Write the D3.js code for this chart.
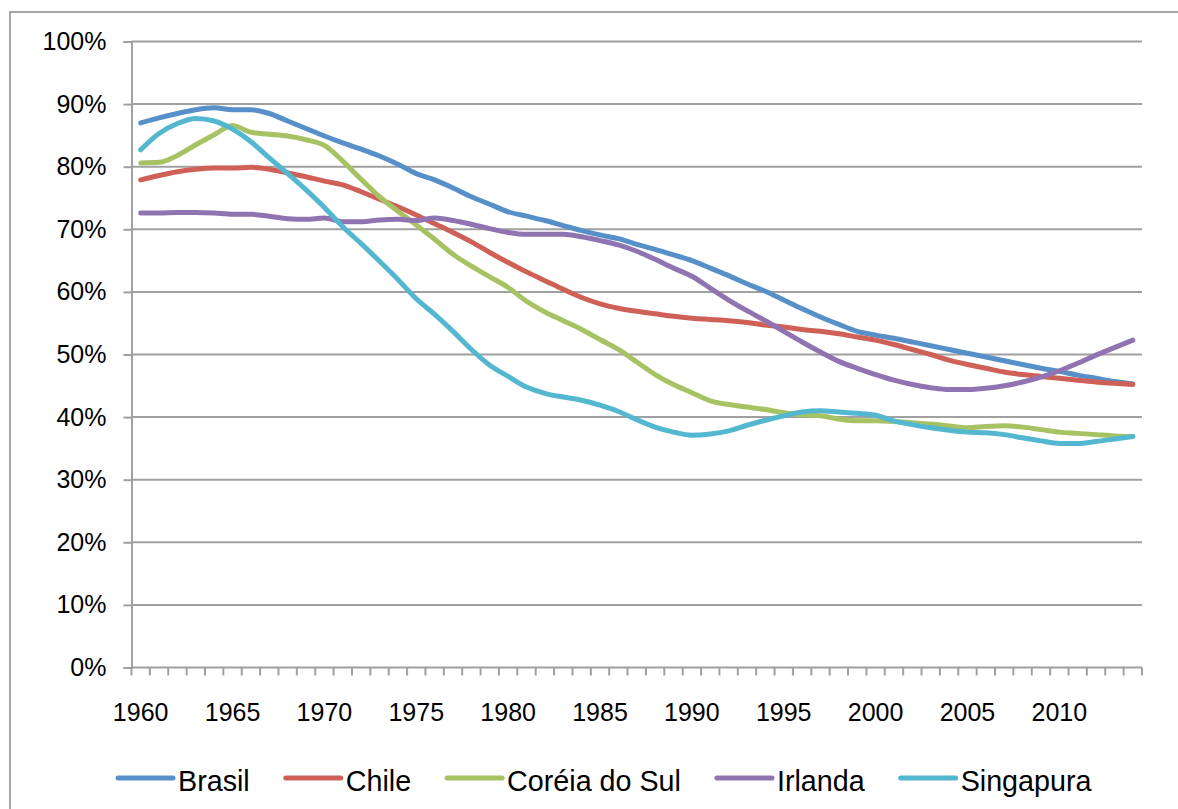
<!DOCTYPE html>
<html><head><meta charset="utf-8">
<script src="https://cdn.jsdelivr.net/npm/d3@7"></script>
<style>
html,body{margin:0;padding:0;background:#fff;}
svg{display:block;font-family:"Liberation Sans",Arial,sans-serif;}
</style></head>
<body>
<svg id="c" width="1178" height="809"></svg>
<script>
const years = d3.range(1960, 2015);
const seriesNames = ["Brasil","Chile","Coréia do Sul","Irlanda","Singapura"];
const seriesColors = ["#5790C9","#CF6058","#A7C263","#8F74B1","#53B7D0"];
const yTicks = [0,10,20,30,40,50,60,70,80,90,100];
const xTickLabels = [1960,1965,1970,1975,1980,1985,1990,1995,2000,2005,2010];

const brasil = [87.0,87.8,88.5,89.1,89.4,89.1,89.1,88.5,87.3,86.1,84.9,83.8,82.8,81.7,80.4,78.9,77.9,76.6,75.2,74.0,72.8,72.1,71.4,70.6,69.8,69.1,68.5,67.6,66.8,65.9,65.0,63.8,62.6,61.3,60.1,58.7,57.3,56.0,54.8,53.7,53.1,52.6,52.0,51.4,50.8,50.2,49.6,49.0,48.4,47.8,47.3,46.7,46.2,45.7,45.3];
const chile = [77.9,78.6,79.2,79.6,79.8,79.8,79.9,79.6,79.0,78.4,77.7,77.1,76.0,74.8,73.6,72.3,70.9,69.5,68.0,66.3,64.7,63.2,61.8,60.4,59.1,58.1,57.4,56.9,56.5,56.1,55.8,55.6,55.4,55.1,54.7,54.4,54.0,53.7,53.3,52.8,52.3,51.6,50.8,50.0,49.1,48.4,47.8,47.2,46.8,46.5,46.2,45.9,45.6,45.4,45.2];
const coreia = [80.6,80.7,81.8,83.5,85.1,86.6,85.5,85.2,84.9,84.3,83.4,80.9,78.0,75.2,72.9,70.7,68.4,66.0,64.1,62.4,60.7,58.5,56.8,55.4,54.0,52.4,50.8,48.8,46.8,45.2,43.9,42.6,42.0,41.6,41.2,40.7,40.4,40.2,39.7,39.4,39.4,39.3,39.1,38.9,38.6,38.3,38.5,38.6,38.4,38.0,37.6,37.4,37.2,37.0,36.9];
const irlanda = [72.6,72.6,72.7,72.7,72.6,72.4,72.4,72.1,71.7,71.6,71.8,71.2,71.2,71.5,71.6,71.4,71.8,71.4,70.8,70.1,69.5,69.2,69.2,69.2,68.8,68.2,67.5,66.5,65.2,63.8,62.5,60.6,58.7,57.0,55.4,53.7,52.0,50.4,48.9,47.8,46.8,45.9,45.2,44.7,44.4,44.4,44.6,45.0,45.6,46.4,47.4,48.6,49.9,51.1,52.3];
const singapura = [82.7,85.3,86.9,87.7,87.3,86.0,84.0,81.4,78.9,76.3,73.5,70.4,67.7,64.9,62.0,58.9,56.4,53.7,50.8,48.3,46.5,44.8,43.8,43.2,42.7,41.9,40.9,39.6,38.4,37.6,37.1,37.3,37.8,38.7,39.5,40.2,40.8,41.0,40.8,40.6,40.3,39.4,38.8,38.3,37.9,37.6,37.5,37.2,36.7,36.2,35.8,35.8,36.1,36.5,36.9];
const seriesValues = [brasil, chile, coreia, irlanda, singapura];

const svg = d3.select("#c");
const L = 131.5, R = 1142, T = 41.5, B = 667.5;
const gridColor = "#a0a0a0";

// outer chart border
svg.append("rect").attr("x",10).attr("y",12).attr("width",1300).attr("height",1000)
  .attr("fill","#fff").attr("stroke","#a6a6a6").attr("stroke-width",2);

const x = d3.scaleBand().domain(years).range([L, R]).padding(0);
const y = d3.scaleLinear().domain([0,100]).range([B, T]);

// gridlines
svg.append("g").selectAll("line").data(yTicks.filter(d=>d>0)).join("line")
  .attr("x1", L).attr("x2", R).attr("y1", d=>y(d)).attr("y2", d=>y(d))
  .attr("stroke", gridColor).attr("stroke-width", 2);

// y axis
const yAxis = svg.append("g").attr("transform",`translate(${L},0)`)
  .call(d3.axisLeft(y).tickValues(yTicks).tickFormat(d=>d+"%").tickSize(8).tickPadding(17));
yAxis.select(".domain").attr("stroke", gridColor).attr("stroke-width",2);
yAxis.selectAll(".tick line").attr("stroke", gridColor).attr("stroke-width",2);
yAxis.selectAll("text").attr("font-size",25).attr("fill","#000").attr("font-family","Liberation Sans, Arial, sans-serif");

// x axis line
svg.append("line").attr("x1",L).attr("x2",R).attr("y1",B).attr("y2",B)
  .attr("stroke",gridColor).attr("stroke-width",2);
// tick marks at category boundaries
const boundaries = years.map(d=>x(d)).concat([R]);
svg.append("g").selectAll("line").data(boundaries).join("line")
  .attr("x1",d=>d).attr("x2",d=>d).attr("y1",B).attr("y2",B+8)
  .attr("stroke",gridColor).attr("stroke-width",2);
// x labels
svg.append("g").selectAll("text").data(xTickLabels).join("text")
  .attr("x", d=>x(d)+x.bandwidth()/2).attr("y", 721)
  .attr("text-anchor","middle").attr("font-size",25).attr("fill","#000")
  .text(d=>d);

// lines
const line = d3.line().x((d,i)=>x(years[i])+x.bandwidth()/2).y(d=>y(d)).curve(d3.curveMonotoneX);
svg.append("g").selectAll("path").data(seriesValues).join("path")
  .attr("d", d=>line(d)).attr("fill","none")
  .attr("stroke",(d,i)=>seriesColors[i]).attr("stroke-width",5)
  .attr("stroke-linejoin","round").attr("stroke-linecap","round");

// legend
const lg = svg.append("g");
let lx = 118;
const ly = 778;
seriesNames.forEach((name,i)=>{
  lg.append("line").attr("x1",lx).attr("x2",lx+55).attr("y1",ly).attr("y2",ly)
    .attr("stroke",seriesColors[i]).attr("stroke-width",5).attr("stroke-linecap","round");
  const t = lg.append("text").attr("x",lx+60).attr("y",791).attr("font-size",28.7).attr("fill","#000").text(name);
  const w = t.node().getComputedTextLength();
  lx = lx + 60 + w + 36;
});
</script>
</body></html>
